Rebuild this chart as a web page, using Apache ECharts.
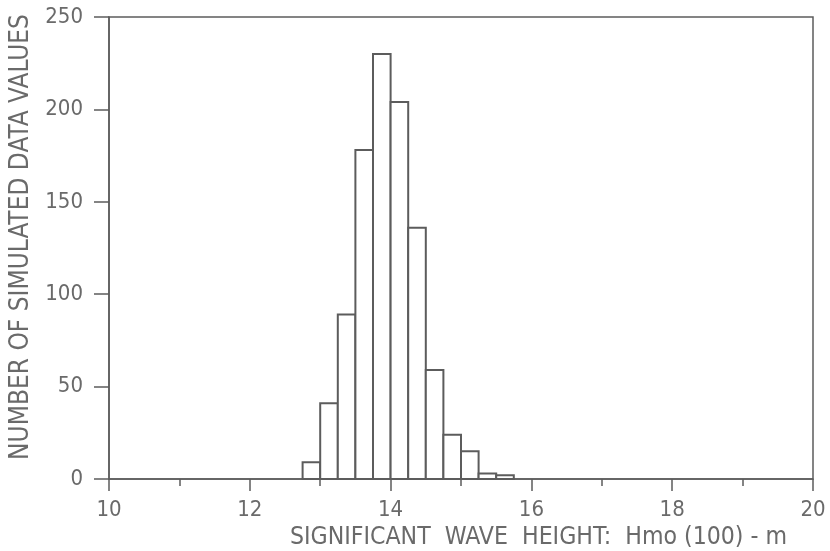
<!DOCTYPE html>
<html><head><meta charset="utf-8">
<script src="https://cdn.jsdelivr.net/npm/echarts@6/dist/echarts.min.js"></script>
<style>html,body{margin:0;padding:0;background:#fff}#c{width:830px;height:551px}</style>
</head><body><div id="c"></div>
<script>
const binStarts = [12.75, 13.0, 13.25, 13.5, 13.75, 14.0, 14.25, 14.5, 14.75, 15.0, 15.25, 15.5];
const binEnds   = [13.0, 13.25, 13.5, 13.75, 14.0, 14.25, 14.5, 14.75, 15.0, 15.25, 15.5, 15.75];
const counts    = [9, 41, 89, 178, 230, 204, 136, 59, 24, 15, 3, 2];
const xTickLabels = ['10', '12', '14', '16', '18', '20'];
const yTickLabels = ['0', '50', '100', '150', '200', '250'];
const xTitle = 'SIGNIFICANT  WAVE  HEIGHT:  Hmo (100) - m';
const yTitle = 'NUMBER OF SIMULATED DATA VALUES';

const FONT = '"DejaVu Sans Condensed", "Liberation Sans Narrow", "DejaVu Sans", sans-serif';
const INK = '#5c5c5c';
const TXT = '#6a6a6a';
const chart = echarts.init(document.getElementById('c'));
const data = binStarts.map((s, i) => [s, binEnds[i], counts[i]]);
chart.setOption({
  animation: false,
  backgroundColor: '#fff',
  grid: { left: 109, right: 17, top: 17, bottom: 72, show: true, borderColor: INK, borderWidth: 1.5, backgroundColor: 'transparent' },
  xAxis: {
    type: 'value', min: 10, max: 20, interval: 2,
    axisLine: { lineStyle: { color: INK, width: 1.5 } },
    axisTick: { length: 12, lineStyle: { color: INK, width: 1.5 } },
    minorTick: { show: true, splitNumber: 2, length: 7, lineStyle: { color: INK, width: 1.5 } },
    splitLine: { show: false },
    axisLabel: { margin: 20, color: TXT, fontFamily: FONT, fontSize: 22,
      formatter: v => xTickLabels.includes(String(v)) ? String(v) : '' }
  },
  yAxis: {
    type: 'value', min: 0, max: 250, interval: 50,
    axisLine: { show: true, lineStyle: { color: INK, width: 1.5 } },
    axisTick: { show: true, length: 15, lineStyle: { color: INK, width: 1.5 } },
    splitLine: { show: false },
    axisLabel: { margin: 26, color: TXT, fontFamily: FONT, fontSize: 22,
      formatter: v => yTickLabels.includes(String(v)) ? String(v) : '' }
  },
  graphic: [
    { type: 'text', left: 290, top: 525, style: { text: xTitle, fill: TXT, font: '24.6px ' + FONT } },
    { type: 'text', rotation: Math.PI / 2, x: 8, y: 237, style: { text: yTitle, fill: TXT, font: '26px ' + FONT, align: 'center', verticalAlign: 'top' } }
  ],
  series: [{
    type: 'custom',
    data: data,
    renderItem: (params, api) => {
      const p0 = api.coord([api.value(0), 0]);
      const p1 = api.coord([api.value(1), api.value(2)]);
      return { type: 'rect', shape: { x: p0[0], y: p1[1], width: p1[0] - p0[0], height: p0[1] - p1[1] },
        style: { fill: '#fff', stroke: INK, lineWidth: 2 } };
    }
  }]
});
</script></body></html>
